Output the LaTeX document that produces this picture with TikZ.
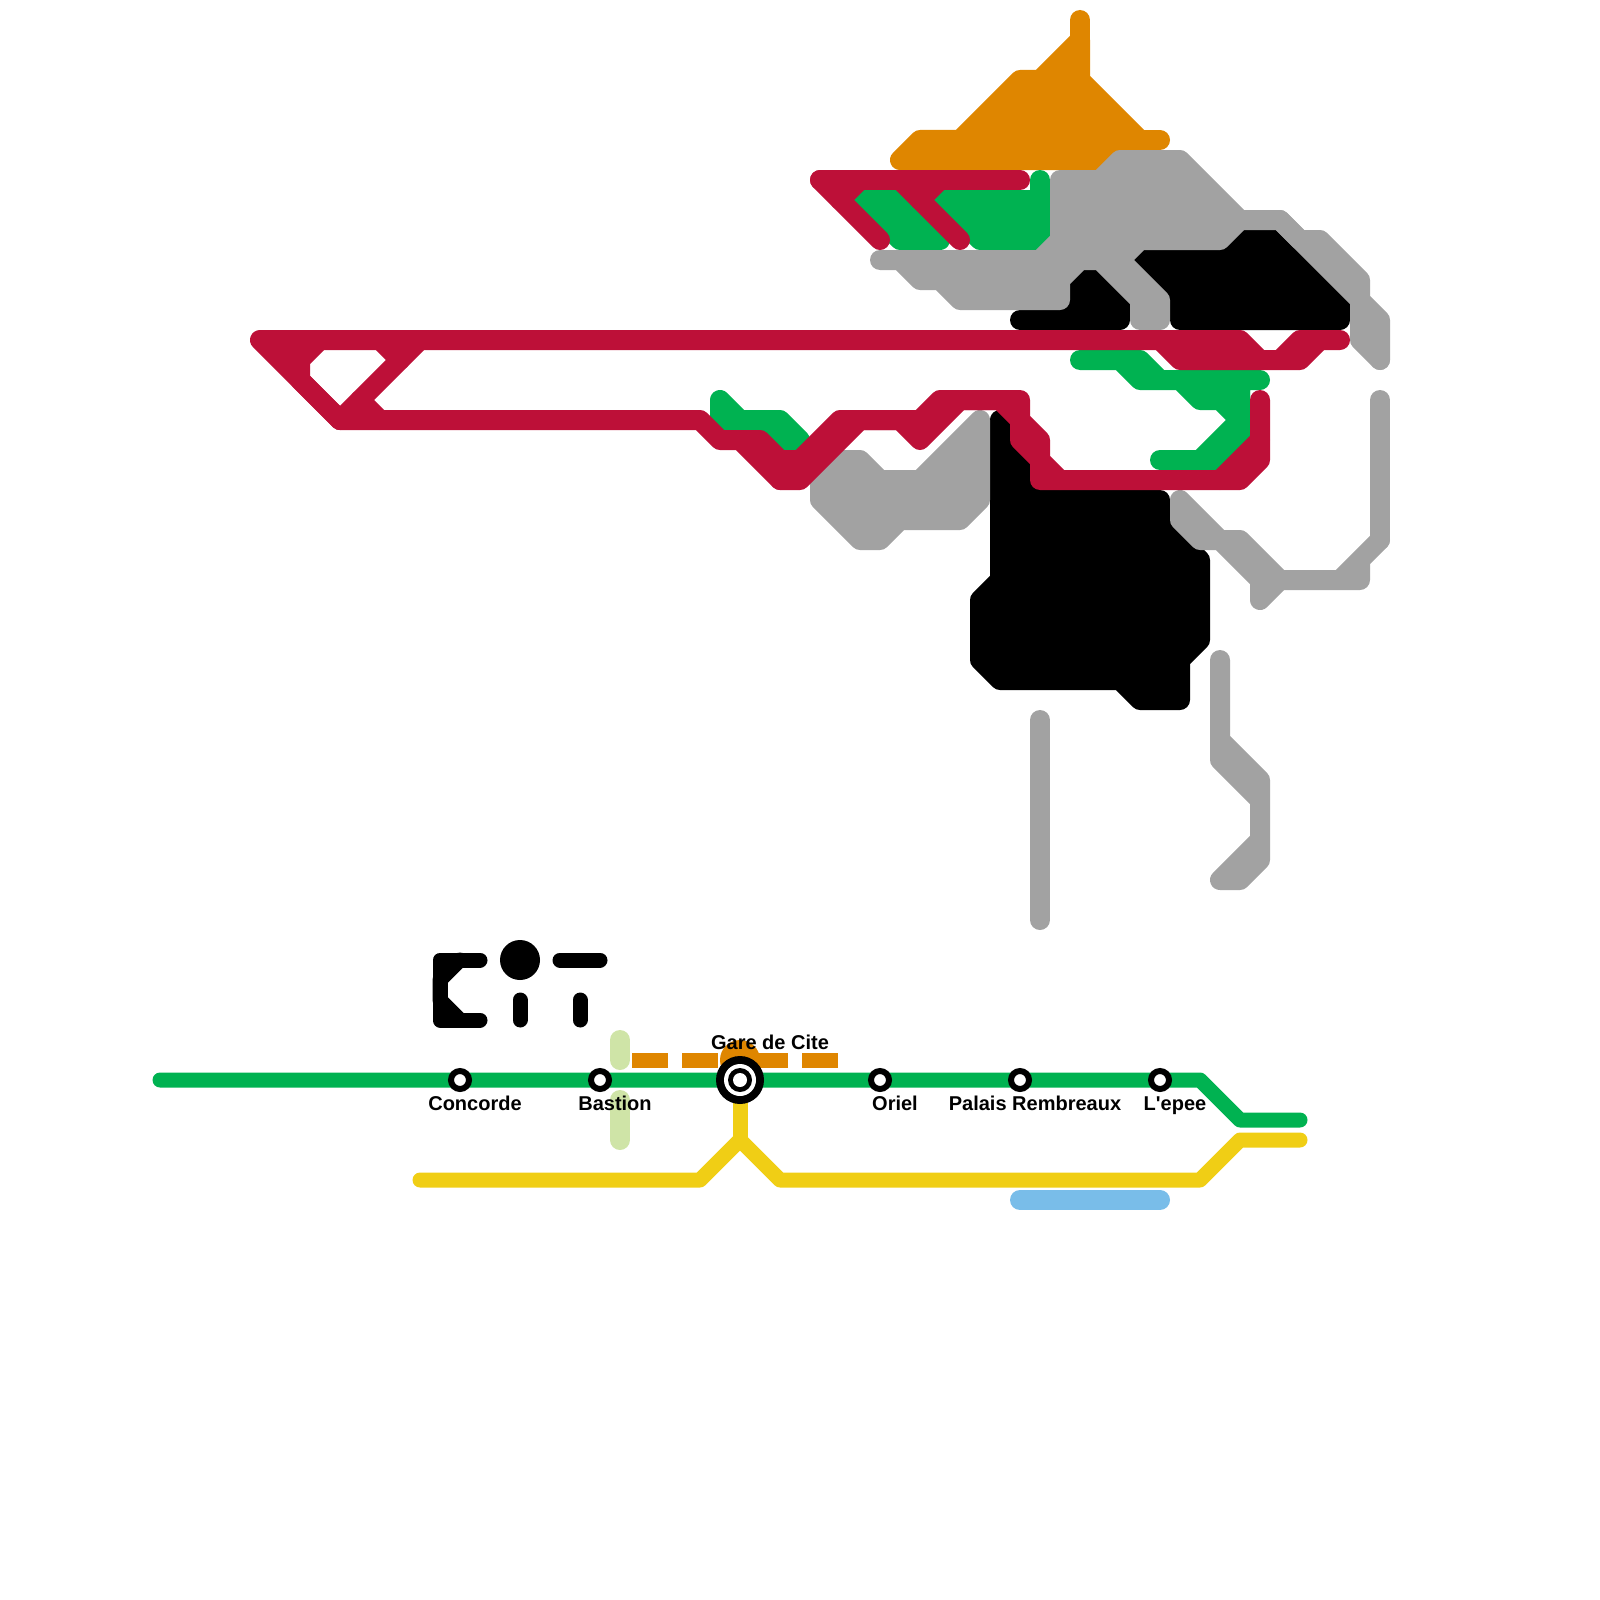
\documentclass[tikz,border=0pt]{standalone}
\usepackage{fontspec}
\newfontfamily\labelfont{Liberation Sans}
\definecolor{cgreen}{RGB}{0,178,81}
\definecolor{cred}{RGB}{189,16,56}
\definecolor{corange}{RGB}{223,134,0}
\definecolor{cgray}{RGB}{162,162,162}
\definecolor{cyellow}{RGB}{240,206,21}
\definecolor{cblue}{RGB}{121,189,233}
\definecolor{clight}{RGB}{207,228,167}
\tikzset{
  wide/.style={line width=20pt,line cap=round,line join=round,draw=#1},
  blob/.style={line width=20pt,line cap=round,line join=round,draw=#1,fill=#1},
  thin line/.style={line width=15pt,line cap=round,line join=round,draw=#1},
  dashbit/.style={fill=corange,draw=none},
  stationdot/.style={circle,draw=black,fill=white,line width=6pt,minimum size=18pt,inner sep=0pt},
  stationlabel/.style={anchor=base,inner sep=0pt,font=\labelfont\fontsize{20}{24}\selectfont\bfseries,text=black},
}
\begin{document}
\begin{tikzpicture}[x=1pt,y=-1pt]
\useasboundingbox (0,0) rectangle (1600,1600);
% orange
\draw[blob=corange] (900,160)--(920,140)--(960,140)--(1020,80)--(1040,80)--(1080,40)--(1080,80)--(1140,140)--(1100,160)--cycle;
\draw[wide=corange] (1080,20)--(1080,60);
\draw[wide=corange] (1140,140)--(1160,140);
% green upper
\draw[blob=cgreen] (860,200)--(900,200)--(940,240)--(900,240)--cycle;
\draw[blob=cgreen] (930,200)--(1040,200)--(1040,240)--(980,240)--(940,200)--cycle;
\draw[wide=cgreen] (1040,180)--(1040,240);
% green mid left
\draw[blob=cgreen] (720,400)--(740,420)--(780,420)--(800,440)--(780,455)--(760,440)--(730,430)--(720,420)--cycle;
% green mid right
\draw[blob=cgreen] (1080,360)--(1140,360)--(1160,380)--(1260,380)--(1240,380)--(1240,420)--(1220,400)--(1200,400)--(1180,380)--(1140,380)--(1120,360)--cycle;
\draw[wide=cgreen] (1240,380)--(1240,440)--(1220,460)--(1160,460);
\draw[wide=cgreen] (1240,420)--(1200,460);
% black
\draw[blob=black] (1140,260)--(1220,260)--(1240,240)--(1280,240)--(1340,300)--(1340,320)--(1180,320)--(1180,300)--cycle;
\draw[blob=black] (1020,320)--(1120,320)--(1120,300)--(1100,280)--(1080,280)--(1060,300)--(1060,320)--cycle;
\draw[blob=black] (1000,420)--(1040,460)--(1040,500)--(1160,500)--(1160,520)--(1200,560)--(1200,640)--(1180,660)--(1180,700)--(1140,700)--(1120,680)--(1000,680)--(980,660)--(980,600)--(1000,580)--cycle;
% grey upper
\draw[blob=cgray] (880,260)--(1040,260)--(1060,240)--(1060,180)--(1100,180)--(1120,160)--(1180,160)--(1240,220)--(1220,240)--(1140,240)--(1120,260)--(1160,300)--(1160,320)--(1140,320)--(1140,300)--(1100,260)--(1080,260)--(1060,280)--(1060,300)--(960,300)--(940,280)--(920,280)--(900,260)--cycle;
\draw[wide=cgray] (1240,220)--(1280,220)--(1360,300)--(1360,340)--(1380,360);
\draw[wide=cgray] (1280,220)--(1300,240)--(1320,240)--(1360,280)--(1360,300)--(1380,320)--(1380,360);
% grey mid
\draw[blob=cgray] (980,420)--(980,500)--(960,520)--(900,520)--(880,540)--(860,540)--(820,500)--(820,480)--(840,460)--(860,460)--(880,480)--(920,480)--cycle;
\draw[blob=cgray] (1180,500)--(1220,540)--(1240,540)--(1280,580)--(1260,600)--(1260,580)--(1220,540)--(1200,540)--(1180,520)--cycle;
\draw[blob=cgray] (1280,580)--(1340,580)--(1380,540)--(1360,560)--(1360,580)--cycle;
\draw[wide=cgray] (1380,400)--(1380,540);
% grey lower
\draw[wide=cgray] (1040,720)--(1040,920);
\draw[blob=cgray] (1220,660)--(1220,760)--(1260,800)--(1260,860)--(1240,880)--(1220,880)--(1260,840)--(1260,780)--(1220,740)--cycle;
% red
\draw[wide=cred] (1340,340)--(1300,340)--(1280,360)--(1260,360)--(1240,340)--(260,340)--(340,420)--(700,420)--(720,440)--(740,440)--(780,480)--(800,480)--(860,420)--(900,420)--(920,440)--(960,400)--(1000,400)--(1020,420)--(1020,440)--(1040,460)--(1040,480)--(1240,480)--(1260,460)--(1260,400);
\draw[wide=cred] (740,440)--(760,440)--(780,460)--(800,460)--(840,420)--(920,420)--(940,400)--(1020,400)--(1020,420)--(1040,440)--(1040,460)--(1060,480);
\draw[wide=cred] (780,460)--(780,480);
\draw[wide=cred] (1220,480)--(1260,440);
\draw[wide=cred] (1160,340)--(1180,360)--(1260,360);
\draw[wide=cred] (1200,340)--(1220,360);
\draw[wide=cred] (1320,340)--(1300,360)--(1280,360);
\draw[wide=cred] (320,340)--(300,360)--(300,380)--(340,420);
\draw[wide=cred] (280,340)--(300,360);
\draw[wide=cred] (340,420)--(420,340);
\draw[wide=cred] (380,340)--(400,360);
\draw[wide=cred] (360,400)--(380,420);
\draw[wide=cred] (820,180)--(1020,180);
\draw[wide=cred] (820,180)--(880,240);
\draw[wide=cred] (900,180)--(960,240);
\draw[wide=cred] (860,180)--(840,200);
\draw[wide=cred] (940,180)--(920,200);
% logo
\draw[thin line=black] (480,960)--(440,960)--(440,1020)--(480,1020);
\draw[thin line=black] (460,960)--(440,980)--(440,1000)--(460,1020);
\fill[black] (520,960) circle (20pt);
\draw[thin line=black] (520,1000)--(520,1020);
\draw[thin line=black] (560,960)--(600,960);
\draw[thin line=black] (580,1000)--(580,1020);
% lower diagram
\draw[wide=clight] (620,1040)--(620,1060);
\draw[wide=clight] (620,1100)--(620,1140);
\fill[corange] (740,1060) circle (20pt);
\fill[dashbit] (632,1052.5) rectangle (668,1067.5);
\fill[dashbit] (682,1052.5) rectangle (718,1067.5);
\fill[dashbit] (740,1052.5) rectangle (788,1067.5);
\fill[dashbit] (802,1052.5) rectangle (838,1067.5);
\draw[wide=cblue] (1020,1200)--(1160,1200);
\draw[thin line=cyellow] (420,1180)--(700,1180)--(740,1140)--(780,1180)--(1200,1180)--(1240,1140)--(1300,1140);
\draw[thin line=cyellow] (740,1080)--(740,1140);
\draw[thin line=cgreen] (160,1080)--(1200,1080)--(1240,1120)--(1300,1120);
\node[stationdot] (concorde) at (460,1080) {};
\node[stationdot] (bastion) at (600,1080) {};
\node[stationdot] (oriel) at (880,1080) {};
\node[stationdot] (palais) at (1020,1080) {};
\node[stationdot] (lepee) at (1160,1080) {};
\node[circle,fill=black,minimum size=48pt,inner sep=0pt] (gareouter) at (740,1080) {};
\node[circle,fill=white,minimum size=32pt,inner sep=0pt] (garering) at (740,1080) {};
\node[circle,fill=black,minimum size=24pt,inner sep=0pt] (garecore) at (740,1080) {};
\node[circle,fill=white,minimum size=14pt,inner sep=0pt] (gareeye) at (740,1080) {};
\node[stationlabel] (lconcorde) at (475,1110) {Concorde};
\node[stationlabel] (lbastion) at (615,1110) {Bastion};
\node[stationlabel] (loriel) at (895,1110) {Oriel};
\node[stationlabel] (lpalais) at (1035,1110) {Palais Rembreaux};
\node[stationlabel] (llepee) at (1175,1110) {L'epee};
\node[stationlabel] (lgare) at (770,1049) {Gare de Cite};
\end{tikzpicture}
\end{document}
